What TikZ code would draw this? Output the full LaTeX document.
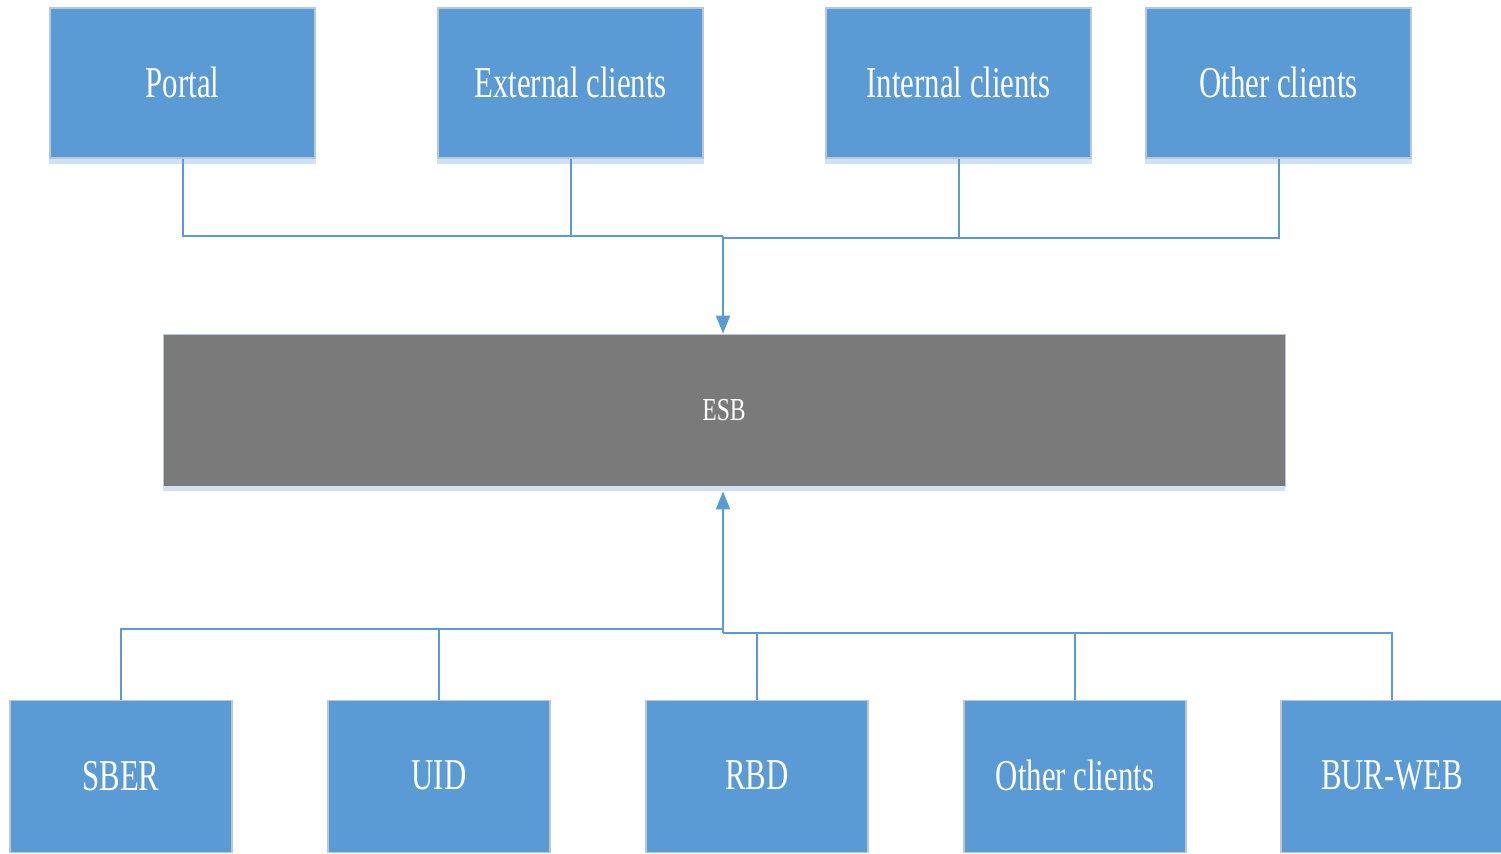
\documentclass[tikz,border=0pt]{standalone}
\usepackage{fontspec}
\setmainfont{Liberation Serif}
\newfontfamily\cond[FakeStretch=0.7]{Liberation Serif}
\newfontfamily\condb[FakeStretch=0.74]{Liberation Serif}
\usetikzlibrary{arrows.meta}
\definecolor{boxblue}{HTML}{5B9BD5}
\definecolor{boxedge}{HTML}{B8C8DA}
\definecolor{strip}{HTML}{CFE1F2}
\definecolor{esbgray}{HTML}{7A7A7A}
\tikzset{
  topbox/.style={rectangle, fill=boxblue, draw=boxedge, line width=0.6pt, minimum width=132.5pt, minimum height=75pt, inner sep=0pt, text=white, font=\cond\fontsize{22}{26}\selectfont, text depth=1pt},
  botbox/.style={rectangle, fill=boxblue, draw=boxedge, line width=0.6pt, minimum width=111pt, minimum height=76pt, inner sep=0pt, text=white, font=\cond\fontsize{22}{26}\selectfont, text depth=1pt},
  esbbox/.style={rectangle, fill=esbgray, draw=boxedge, line width=0.4pt, minimum width=561pt, minimum height=76pt, inner sep=0pt, text=white, font=\condb\fontsize{16}{19}\selectfont},
  conn/.style={draw=boxblue, line width=1pt},
  arr/.style={conn, -{Triangle[width=7pt,length=9pt]}},
}
\begin{document}
\begin{tikzpicture}[x=0.5pt,y=-0.5pt]
\useasboundingbox (0,0) rectangle (1501,853);
% top boxes
\node[topbox] (portal)   at (182.5,83) {Portal};
\node[topbox] (external) at (570.5,83) {External clients};
\node[topbox] (internal) at (958.5,83) {Internal clients};
\node[topbox] (othertop) at (1278.5,83) {Other clients};
\foreach \n in {portal,external,internal,othertop}{
  \fill[strip] (\n.south west) rectangle ([yshift=-2.8pt]\n.south east);
}
% ESB
\node[esbbox] (esb) at (724,410) {ESB};
\fill[strip] (esb.south west) rectangle ([yshift=-2.5pt]esb.south east);
% bottom boxes
\node[botbox] (sber)  at (121,776.5) {SBER};
\node[botbox] (uid)   at (439,776.5) {UID};
\node[botbox] (rbd)   at (757,776.5) {RBD};
\node[botbox] (otherbot) at (1075,776.5) {Other clients};
\node[botbox] (bur)   at (1392,776.5) {BUR-WEB};
% junctions
\coordinate (jtl) at (723,236);
\coordinate (jtr) at (723,238);
\coordinate (jbl) at (723,629);
\coordinate (jbr) at (723,633);
% top connectors
\draw[conn] (portal.south) |- (jtl);
\draw[conn] (external.south) |- (jtl);
\draw[conn] (internal.south) |- (jtr);
\draw[conn] (othertop.south) |- (jtr);
\draw[arr] (jtl) -- (jtl |- esb.north);
% bottom connectors
\draw[conn] (sber.north) |- (jbl);
\draw[conn] (uid.north) |- (jbl);
\draw[conn] (rbd.north) |- (jbr);
\draw[conn] (otherbot.north) |- (jbr);
\draw[conn] (bur.north) |- (jbr);
\draw[conn] (jbl) -- (jbr);
\draw[arr] (jbr) -- ([yshift=-2.5pt]esb.south -| jbr);
\end{tikzpicture}
\end{document}
